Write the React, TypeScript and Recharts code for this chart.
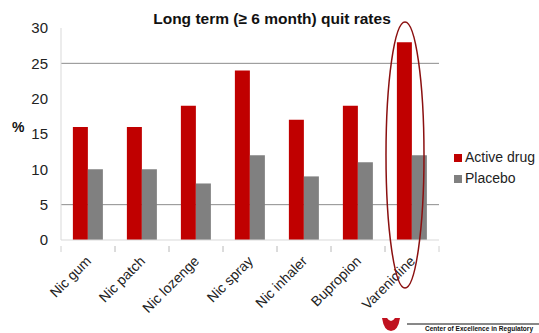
import React from 'react';
import { BarChart, Bar, XAxis, YAxis, CartesianGrid } from 'recharts';

const categories = ['Nic gum', 'Nic patch', 'Nic lozenge', 'Nic spray', 'Nic inhaler', 'Bupropion', 'Varenicline'];
const activeDrug = [16, 16, 19, 24, 17, 19, 28];
const placebo = [10, 10, 8, 12, 9, 11, 12];
const yTicks = [0, 5, 10, 15, 20, 25, 30];

const W = 539;
const H = 333;
const plotLeft = 61;
const plotRight = 439;
const band = (plotRight - plotLeft) / categories.length;

const series = [
  { key: 'active', name: 'Active drug', color: '#c00000' },
  { key: 'placebo', name: 'Placebo', color: '#808080' },
];

const data = categories.map((name, i) => ({
  name,
  active: activeDrug[i],
  placebo: placebo[i],
}));

// rotated label + little boundary ticks between categories
const CatTick = (props: any) => {
  const { x, y, payload } = props;
  return (
    <g>
      <line x1={x - band / 2} y1={y - 2} x2={x - band / 2} y2={y + 4} stroke="#d0d0d0" />
      <line x1={x + band / 2} y1={y - 2} x2={x + band / 2} y2={y + 4} stroke="#d0d0d0" />
      <text
        x={x + 4}
        y={y + 14}
        textAnchor="end"
        transform={`rotate(-45, ${x + 4}, ${y + 14})`}
        fontSize={14}
        fill="#222"
        fontFamily="Arial, 'Liberation Sans', sans-serif"
      >
        {payload.value}
      </text>
    </g>
  );
};

const App = () => {
  return (
    <div style={{ position: 'absolute', left: 0, top: 0, width: W, height: H, background: '#fff', fontFamily: "Arial, 'Liberation Sans', sans-serif" }}>
      <BarChart
        width={W}
        height={H}
        data={data}
        margin={{ top: 28, right: W - plotRight, left: 0, bottom: 0 }}
        barCategoryGap="22%"
        barGap={0}
      >
        <CartesianGrid vertical={false} horizontalValues={[5, 25]} stroke="#8c8c8c" strokeWidth={1} />
        <XAxis
          dataKey="name"
          height={93}
          interval={0}
          axisLine={{ stroke: '#d9d9d9' }}
          tickLine={false}
          tick={<CatTick />}
        />
        <YAxis
          width={plotLeft}
          domain={[0, 30]}
          ticks={yTicks}
          interval={0}
          axisLine={{ stroke: '#d9d9d9' }}
          tickLine={false}
          tickMargin={7}
          tick={{ fontSize: 15, fill: '#222' }}
        />
        {series.map((s) => (
          <Bar key={s.key} dataKey={s.key} name={s.name} fill={s.color} isAnimationActive={false} />
        ))}
      </BarChart>

      {/* legend */}
      <div style={{ position: 'absolute', left: 454, top: 147, fontSize: 14, lineHeight: '21px', color: '#222' }}>
        {series.map((s) => (
          <div key={s.key} style={{ display: 'flex', alignItems: 'center', whiteSpace: 'nowrap' }}>
            <span style={{ display: 'inline-block', width: 8, height: 8, background: s.color, marginRight: 3 }} />
            {s.name}
          </div>
        ))}
      </div>

      <svg width={W} height={H} style={{ position: 'absolute', left: 0, top: 0, pointerEvents: 'none' }}>
        <text x={272} y={24} textAnchor="middle" fontSize={15.5} fontWeight="bold" fill="#111">
          Long term (≥ 6 month) quit rates
        </text>
        <text x={12} y={132} fontSize={14} fontWeight="bold" fill="#111">%</text>
        <ellipse cx={405} cy={155} rx={19} ry={133} fill="none" stroke="#8b1010" strokeWidth={1.5} />
        <path d="M382 318 L387 318 Q391 324 395 318 L400 318 Q398 331 391 331 Q384 331 382 318 Z" fill="#c0111f" />
        <line x1={407} y1={324} x2={539} y2={324} stroke="#111" strokeWidth={1} />
        <text x={425} y={331} fontSize={6.5} fontWeight="bold" fill="#111" textLength={108}>
          Center of Excellence in Regulatory
        </text>
      </svg>
    </div>
  );
};

export default App;
